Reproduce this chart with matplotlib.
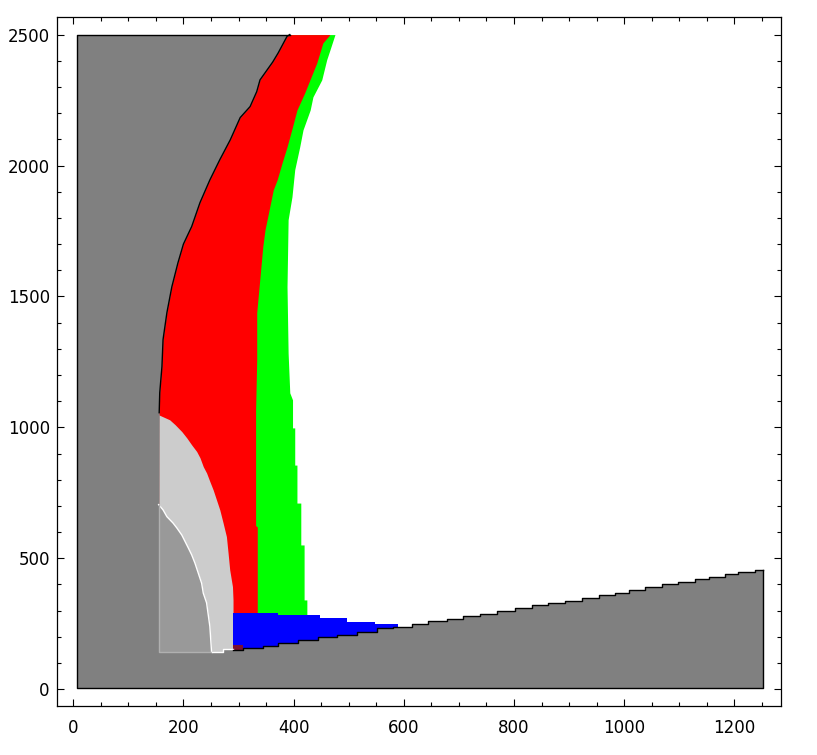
import numpy as np
from matplotlib import pyplot as plt
from matplotlib.ticker import MultipleLocator

# outer grey block
x_left, x_right = 6, 1252
y_bottom, y_top = 4, 2500

# grey / red boundary on the left side
L_y = [4, 1056, 1132, 1232, 1335, 1438, 1537, 1628, 1700, 1767, 1858, 1945, 2022,
       2098, 2183, 2225, 2282, 2327, 2395, 2430, 2493, 2500]
L_x = [155, 156, 157, 161, 163, 170, 179, 190, 200, 215, 230, 248, 266,
       285, 303, 321, 333, 339, 362, 372, 388, 393]

# red right edge
R_y = [280, 620, 625, 1067, 1258, 1438, 1575, 1690, 1754, 1805, 1907, 1945, 2010,
       2071, 2148, 2212, 2277, 2392, 2468, 2500]
R_x = [334, 334, 331, 331, 333, 333, 339, 344, 348, 353, 363, 370, 379,
       388, 398, 406, 420, 442, 453, 466]

# green right edge
G_y = [280, 341, 341, 551, 551, 711, 711, 856, 856, 998, 998, 1105, 1132, 1283,
       1537, 1793, 1881, 1984, 2071, 2136, 2212, 2262, 2327, 2404, 2442, 2500]
G_x = [424, 424, 419, 419, 413, 413, 406, 406, 402, 402, 398, 398, 393, 390,
       388, 390, 397, 402, 411, 417, 430, 435, 451, 460, 466, 475]

# light grey right edge
C_y = [144, 341, 392, 456, 521, 583, 635, 685, 723, 761, 793, 826, 850, 884,
       908, 933, 960, 984, 1010, 1029, 1048]
C_x = [290, 290, 289, 284, 281, 278, 272, 266, 260, 254, 248, 242, 236, 230,
       224, 215, 206, 197, 185, 175, 155]

# medium grey right edge
M_y = [144, 239, 330, 367, 405, 443, 481, 513, 539, 564, 589, 616, 635, 659, 685, 705]
M_x = [251, 248, 242, 236, 233, 227, 221, 215, 209, 203, 197, 188, 181, 170, 163, 155]

# blue wedge top (steps)
blue_x = [290, 372, 448, 497, 548, 589]
blue_top = [290, 284, 272, 258, 249]

# bottom staircase
stair_x = [6, 272, 290, 308, 344, 372, 408, 444, 478, 515, 551, 580, 615, 644, 678,
           707, 738, 769, 802, 833, 862, 892, 923, 954, 983, 1009, 1038, 1068, 1098,
           1128, 1154, 1183, 1206, 1237, 1252]
stair_y = [144, 153, 150, 157, 165, 176, 188, 199, 207, 220, 233, 239, 249, 261, 269,
           280, 288, 299, 309, 321, 328, 338, 349, 360, 369, 379, 390, 402, 409, 420,
           430, 440, 447, 456]

dark = '#808080'

fig = plt.figure(figsize=(8.17, 7.55), dpi=100)
ax = fig.add_axes([0.0694, 0.0649, 0.8862, 0.9122])

# coloured bands
ax.fill_betweenx(G_y, 150, G_x, color='#00ff00', lw=0)
ax.fill_betweenx(R_y, 150, np.interp(R_y, R_y, R_x), color='#ff0000', lw=0)
ax.fill_betweenx(C_y, 155, C_x, color='#cccccc', lw=0)
ax.fill_betweenx(M_y, 155, M_x, color='#999999', lw=0)
ax.fill_between(blue_x, 140, blue_top + blue_top[-1:], step='post', color='#0000ff', lw=0)
ax.fill_between([290, 308], 140, 168, color='#7a1030', lw=0)

# grey background parts
ax.fill_betweenx(L_y, x_left, L_x, color=dark, lw=0)
ax.fill_between(stair_x, y_bottom, stair_y + stair_y[-1:], step='post', color=dark, lw=0)

# outlines
ax.plot(M_x, M_y, color='white', lw=1)
ax.plot([155, 155, 251], [705, 144, 144], color='#b0b0b0', lw=1)
ax.plot([251, 272, 272, 290], [144, 144, 153, 153], color='white', lw=1)
ax.plot(L_x[1:], L_y[1:], color='black', lw=1)
ax.plot(stair_x[2:], stair_y[2:] + stair_y[-1:], drawstyle='steps-post', color='black', lw=1)
ax.plot([x_right, x_right, x_left, x_left, L_x[-1]],
        [stair_y[-1], y_bottom, y_bottom, y_top, y_top], color='black', lw=1)

ax.set_xlim(-30, 1284)
ax.set_ylim(-64, 2566)
ax.xaxis.set_major_locator(MultipleLocator(200))
ax.xaxis.set_minor_locator(MultipleLocator(50))
ax.yaxis.set_major_locator(MultipleLocator(500))
ax.yaxis.set_minor_locator(MultipleLocator(100))
ax.tick_params(which='both', direction='in', top=True, right=True, width=0.8)
ax.tick_params(which='major', length=5)
ax.tick_params(which='minor', length=3)
ax.tick_params(axis='x', pad=9, labelsize=12)
ax.tick_params(axis='y', pad=5, labelsize=12)
for s in ax.spines.values():
    s.set_linewidth(0.9)

fig.savefig('out.png', dpi=100)
